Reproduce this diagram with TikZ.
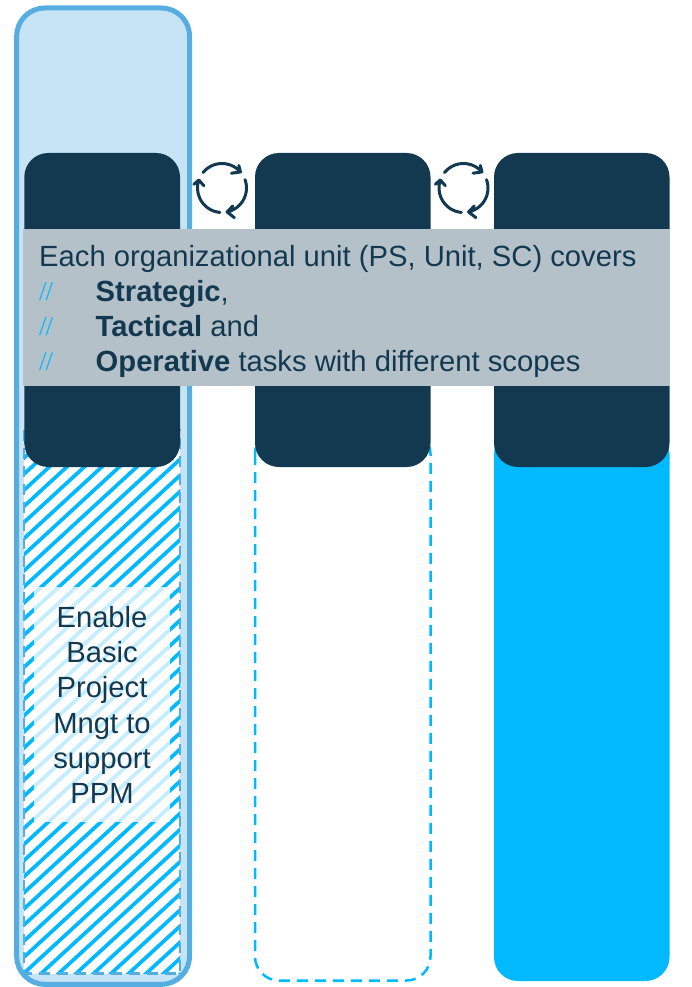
\documentclass[tikz,border=0pt]{standalone}
\usepackage{fontspec}
\setmainfont{Liberation Sans}
\newfontfamily\slashfont{Liberation Serif}
\definecolor{navy}{HTML}{12394F}
\definecolor{cyanb}{HTML}{00B9FF}
\definecolor{framec}{HTML}{56AEE0}
\definecolor{framef}{HTML}{C7E3F6}
\definecolor{band}{HTML}{B5C1C9}
\tikzset{
  darkbox/.style={fill=navy,rounded corners=24pt},
  dashbox/.style={draw=cyanb,line width=2.5pt,dash pattern=on 11pt off 7pt},
  txt/.style={inner sep=0pt,anchor=base west,text=navy,font=\fontsize{29.2}{29.2}\selectfont},
  bul/.style={inner sep=0pt,anchor=base west,text=cyanb,font=\slashfont\fontsize{27}{27}\selectfont},
  ctr/.style={inner sep=0pt,anchor=base,text=navy,font=\fontsize{29.2}{29.2}\selectfont},
  cyc/.style={draw=navy,line width=3pt,line cap=round,line join=round}
}
\newcommand{\cyclemark}[2]{%
  \draw[cyc,shift={(#1,#2)}] (-141:24.5) arc[start angle=-141,end angle=-41,radius=24.5]
     -- ++(-1.7,-6.5) -- ++(1.7,6.5) -- ++(-9,1.3);
  \draw[cyc,shift={(#1,#2)}] (-20:24.5) arc[start angle=-20,end angle=78,radius=24.5]
     -- ++(5.7,-6) -- ++(-5.7,6) -- ++(7.3,5.7);
  \draw[cyc,shift={(#1,#2)}] (95:24.5) arc[start angle=95,end angle=199,radius=24.5]
     -- ++(-5,4.3) -- ++(5,-4.3) -- ++(5,5.7);
}
\begin{document}
\begin{tikzpicture}[x=1pt,y=-1pt]
\useasboundingbox (0,0) rectangle (692,987);
% outer frame
\draw[draw=framec,fill=framef,line width=5pt,rounded corners=28pt] (16.7,8) rectangle (189.5,984.3);
% hatched column
\fill[white] (24,430) rectangle (180,973.5);
\begin{scope}
\clip (24,430) rectangle (180,973.5);
\foreach \i in {-35,...,20}{
  \draw[cyanb,line width=3.7pt] ({-118+17.5*\i},975) -- ({-118+17.5*\i+600},{975-600*0.92});
}
\end{scope}
\draw[framec,line width=2.5pt,dash pattern=on 11pt off 7pt] (24,430) rectangle (180,973.5);
% dashed and filled columns
\draw[dashbox,rounded corners=24pt] (255,430) rectangle (430.5,980.5);
\fill[cyanb,rounded corners=24pt] (494,430) rectangle (669.5,981);
% dark headers
\fill[darkbox] (24.3,153) rectangle (180,467);
\fill[darkbox] (255,153) rectangle (430.5,467);
\fill[darkbox] (494,153) rectangle (669.5,467);
% cycle marks
\cyclemark{222}{188}
\cyclemark{463.5}{188}
% band
\fill[band] (23,229) rectangle (669.5,386);
\node[txt] (head) at (39,266) {Each organizational unit (PS, Unit, SC) covers};
\node[bul] (b1) at (39,300.5) {/\kern-1pt/};
\node[bul] (b2) at (39,335.5) {/\kern-1pt/};
\node[bul] (b3) at (39,370.5) {/\kern-1pt/};
\node[txt] (l1) at (95.5,301) {\textbf{Strategic},};
\node[txt] (l2) at (95.5,336) {\textbf{Tactical} and};
\node[txt] (l3) at (95.5,371) {\textbf{Operative} tasks with different scopes};
% panel
\fill[white,opacity=0.77] (34,587) rectangle (170,822);
\node[ctr] (t1) at (102,627) {Enable};
\node[ctr] (t2) at (102,662) {Basic};
\node[ctr] (t3) at (102,697) {Project};
\node[ctr] (t4) at (102,733) {Mngt to};
\node[ctr] (t5) at (102,768) {support};
\node[ctr] (t6) at (102,803) {PPM};
\end{tikzpicture}
\end{document}
